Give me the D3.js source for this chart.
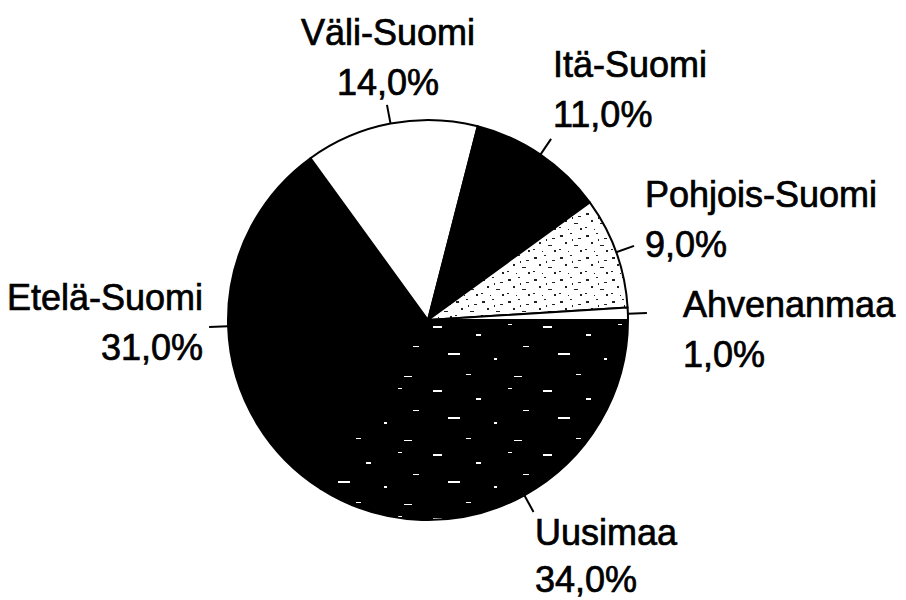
<!DOCTYPE html>
<html>
<head>
<meta charset="utf-8">
<script src="https://cdn.jsdelivr.net/npm/d3@7"></script>
<style>
  body { margin: 0; background: #fff; }
  text { font-family: "Liberation Sans", Arial, sans-serif; font-size: 36px; fill: #000; stroke: #000; stroke-width: 0.7px; }
</style>
</head>
<body>
<script>
// regions in drawing order, clockwise from 3 o'clock
var regions = ["Uusimaa", "Etelä-Suomi", "Väli-Suomi", "Itä-Suomi", "Pohjois-Suomi", "Ahvenanmaa"];
var shares = [34.0, 31.0, 14.0, 11.0, 9.0, 1.0];
var fills = ["url(#dark)", "#000", "#fff", "#000", "url(#speck)", "#fff"];

// where each label goes (x, first baseline, anchor)
var labelPos = [
  {x: 535, y: 545, anchor: "start"},
  {x: 203, y: 310, anchor: "end"},
  {x: 388, y: 45, anchor: "middle"},
  {x: 553, y: 77, anchor: "start"},
  {x: 645, y: 207, anchor: "start"},
  {x: 683, y: 317, anchor: "start"}
];

var width = 906, height = 600;
var cx = 428, cy = 320, r = 200;

var svg = d3.select("body").append("svg")
    .attr("width", width)
    .attr("height", height);

var defs = svg.append("defs");

// black with a few white scratches (scanned hatching)
var dark = defs.append("pattern")
    .attr("id", "dark")
    .attr("patternUnits", "userSpaceOnUse")
    .attr("width", 110).attr("height", 64);
dark.append("rect").attr("width", 110).attr("height", 64).attr("fill", "#000");
[[5,6,9,2],[48,14,5,2],[80,4,4,1],[20,33,12,2],[66,38,3,2],[95,26,6,1],[38,54,5,1],[86,56,8,1]]
  .forEach(function(d){
    dark.append("rect").attr("x", d[0]).attr("y", d[1]).attr("width", d[2]).attr("height", d[3]).attr("fill", "#fff");
  });

// white with black specks
var speck = defs.append("pattern")
    .attr("id", "speck")
    .attr("patternUnits", "userSpaceOnUse")
    .attr("width", 26).attr("height", 22);
speck.append("rect").attr("width", 26).attr("height", 22).attr("fill", "#fff");
[[2,3,3,2],[12,1,2,1],[20,6,3,1],[7,10,2,2],[16,13,4,1],[1,17,2,1],[22,18,2,2],[10,19,1,1],[14,7,1,2]]
  .forEach(function(d){
    speck.append("rect").attr("x", d[0]).attr("y", d[1]).attr("width", d[2]).attr("height", d[3]).attr("fill", "#222");
  });

var pie = d3.pie()
    .sort(null)
    .startAngle(Math.PI / 2)
    .endAngle(Math.PI / 2 + 2 * Math.PI);

var arcs = pie(shares);

var arc = d3.arc().innerRadius(0).outerRadius(r);

var g = svg.append("g").attr("transform", "translate(" + cx + "," + cy + ")");

g.selectAll("path")
    .data(arcs)
    .enter().append("path")
        .attr("d", arc)
        .attr("fill", function(d,i){ return fills[i]; })
        .attr("stroke", "#000")
        .attr("stroke-width", 2)
        .attr("stroke-linejoin", "round");

// leader lines, radial from the middle of each slice
function mid(d){ return (d.startAngle + d.endAngle) / 2; }
g.selectAll("line")
    .data(arcs)
    .enter().append("line")
        .attr("x1", function(d){ return Math.sin(mid(d)) * r; })
        .attr("y1", function(d){ return -Math.cos(mid(d)) * r; })
        .attr("x2", function(d){ return Math.sin(mid(d)) * (r + 19); })
        .attr("y2", function(d){ return -Math.cos(mid(d)) * (r + 19); })
        .attr("stroke", "#000")
        .attr("stroke-width", 2);

var fmt = function(v){ return v.toFixed(1).replace(".", ",") + "%"; };

var labels = svg.selectAll("text.lab")
    .data(arcs)
    .enter().append("text")
        .attr("class", "lab")
        .attr("text-anchor", function(d,i){ return labelPos[i].anchor; });

labels.append("tspan")
    .attr("x", function(d,i){ return labelPos[i].x; })
    .attr("y", function(d,i){ return labelPos[i].y; })
    .text(function(d,i){ return regions[i]; });

labels.append("tspan")
    .attr("x", function(d,i){ return labelPos[i].x; })
    .attr("y", function(d,i){ return labelPos[i].y + (i === 0 ? 47 : 50); })
    .text(function(d,i){ return fmt(shares[i]); });
</script>
</body>
</html>
